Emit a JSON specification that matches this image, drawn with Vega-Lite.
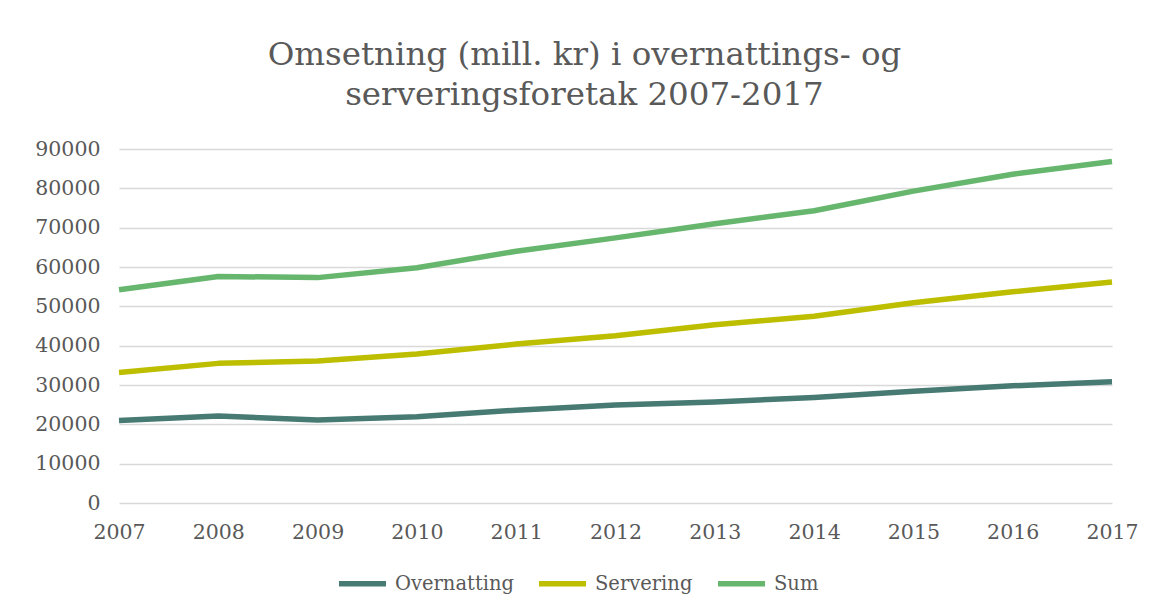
{
  "$schema": "https://vega.github.io/schema/vega-lite/v6.json",
  "width": 993,
  "height": 354,
  "autosize": {"type": "none"},
  "padding": {"left": 119, "top": 149, "right": 42, "bottom": 109},
  "background": "white",
  "title": {
    "text": ["Omsetning (mill. kr) i overnattings- og", "serveringsforetak 2007-2017"],
    "font": "DejaVu Serif",
    "fontSize": 32.5,
    "fontWeight": "normal",
    "color": "#595959",
    "lineHeight": 40,
    "anchor": "middle",
    "dx": -31,
    "offset": 28
  },
  "data": {
    "values": [
      {"year": "2007", "serie": "Overnatting", "value": 21000},
      {"year": "2008", "serie": "Overnatting", "value": 22100},
      {"year": "2009", "serie": "Overnatting", "value": 21100},
      {"year": "2010", "serie": "Overnatting", "value": 21900},
      {"year": "2011", "serie": "Overnatting", "value": 23600},
      {"year": "2012", "serie": "Overnatting", "value": 24900},
      {"year": "2013", "serie": "Overnatting", "value": 25700},
      {"year": "2014", "serie": "Overnatting", "value": 26800},
      {"year": "2015", "serie": "Overnatting", "value": 28400},
      {"year": "2016", "serie": "Overnatting", "value": 29800},
      {"year": "2017", "serie": "Overnatting", "value": 30800},
      {"year": "2007", "serie": "Servering", "value": 33200},
      {"year": "2008", "serie": "Servering", "value": 35500},
      {"year": "2009", "serie": "Servering", "value": 36100},
      {"year": "2010", "serie": "Servering", "value": 37900},
      {"year": "2011", "serie": "Servering", "value": 40400},
      {"year": "2012", "serie": "Servering", "value": 42500},
      {"year": "2013", "serie": "Servering", "value": 45300},
      {"year": "2014", "serie": "Servering", "value": 47500},
      {"year": "2015", "serie": "Servering", "value": 50900},
      {"year": "2016", "serie": "Servering", "value": 53700},
      {"year": "2017", "serie": "Servering", "value": 56200},
      {"year": "2007", "serie": "Sum", "value": 54200},
      {"year": "2008", "serie": "Sum", "value": 57600},
      {"year": "2009", "serie": "Sum", "value": 57300},
      {"year": "2010", "serie": "Sum", "value": 59800},
      {"year": "2011", "serie": "Sum", "value": 64000},
      {"year": "2012", "serie": "Sum", "value": 67400},
      {"year": "2013", "serie": "Sum", "value": 71000},
      {"year": "2014", "serie": "Sum", "value": 74300},
      {"year": "2015", "serie": "Sum", "value": 79300},
      {"year": "2016", "serie": "Sum", "value": 83600},
      {"year": "2017", "serie": "Sum", "value": 86800}
    ]
  },
  "mark": {"type": "line", "strokeWidth": 5.5, "strokeJoin": "round", "strokeCap": "butt"},
  "encoding": {
    "x": {
      "field": "year",
      "type": "ordinal",
      "scale": {"type": "point", "padding": 0},
      "axis": {
        "title": null,
        "labelAngle": 0,
        "labelFont": "DejaVu Serif",
        "labelFontSize": 20.5,
        "labelColor": "#595959",
        "labelPadding": 19,
        "ticks": false,
        "domain": false,
        "grid": false
      }
    },
    "y": {
      "field": "value",
      "type": "quantitative",
      "scale": {"domain": [0, 90000], "nice": false},
      "axis": {
        "title": null,
        "values": [0, 10000, 20000, 30000, 40000, 50000, 60000, 70000, 80000, 90000],
        "format": "d",
        "labelFont": "DejaVu Serif",
        "labelFontSize": 20.5,
        "labelColor": "#595959",
        "labelPadding": 19,
        "ticks": false,
        "domain": false,
        "grid": true,
        "gridColor": "#D9D9D9",
        "gridWidth": 1.5
      }
    },
    "color": {
      "field": "serie",
      "type": "nominal",
      "scale": {"domain": ["Overnatting", "Servering", "Sum"], "range": ["#467A72", "#BDBE00", "#66B66E"]},
      "legend": {
        "title": null,
        "orient": "none",
        "direction": "horizontal",
        "legendX": 217,
        "legendY": 408,
        "symbolType": "stroke",
        "symbolSize": 2209,
        "symbolStrokeWidth": 5.5,
        "labelFont": "DejaVu Serif",
        "labelFontSize": 19.5,
        "labelColor": "#595959",
        "labelOffset": 6,
        "columnPadding": 14
      }
    }
  },
  "config": {"view": {"stroke": null}}
}
